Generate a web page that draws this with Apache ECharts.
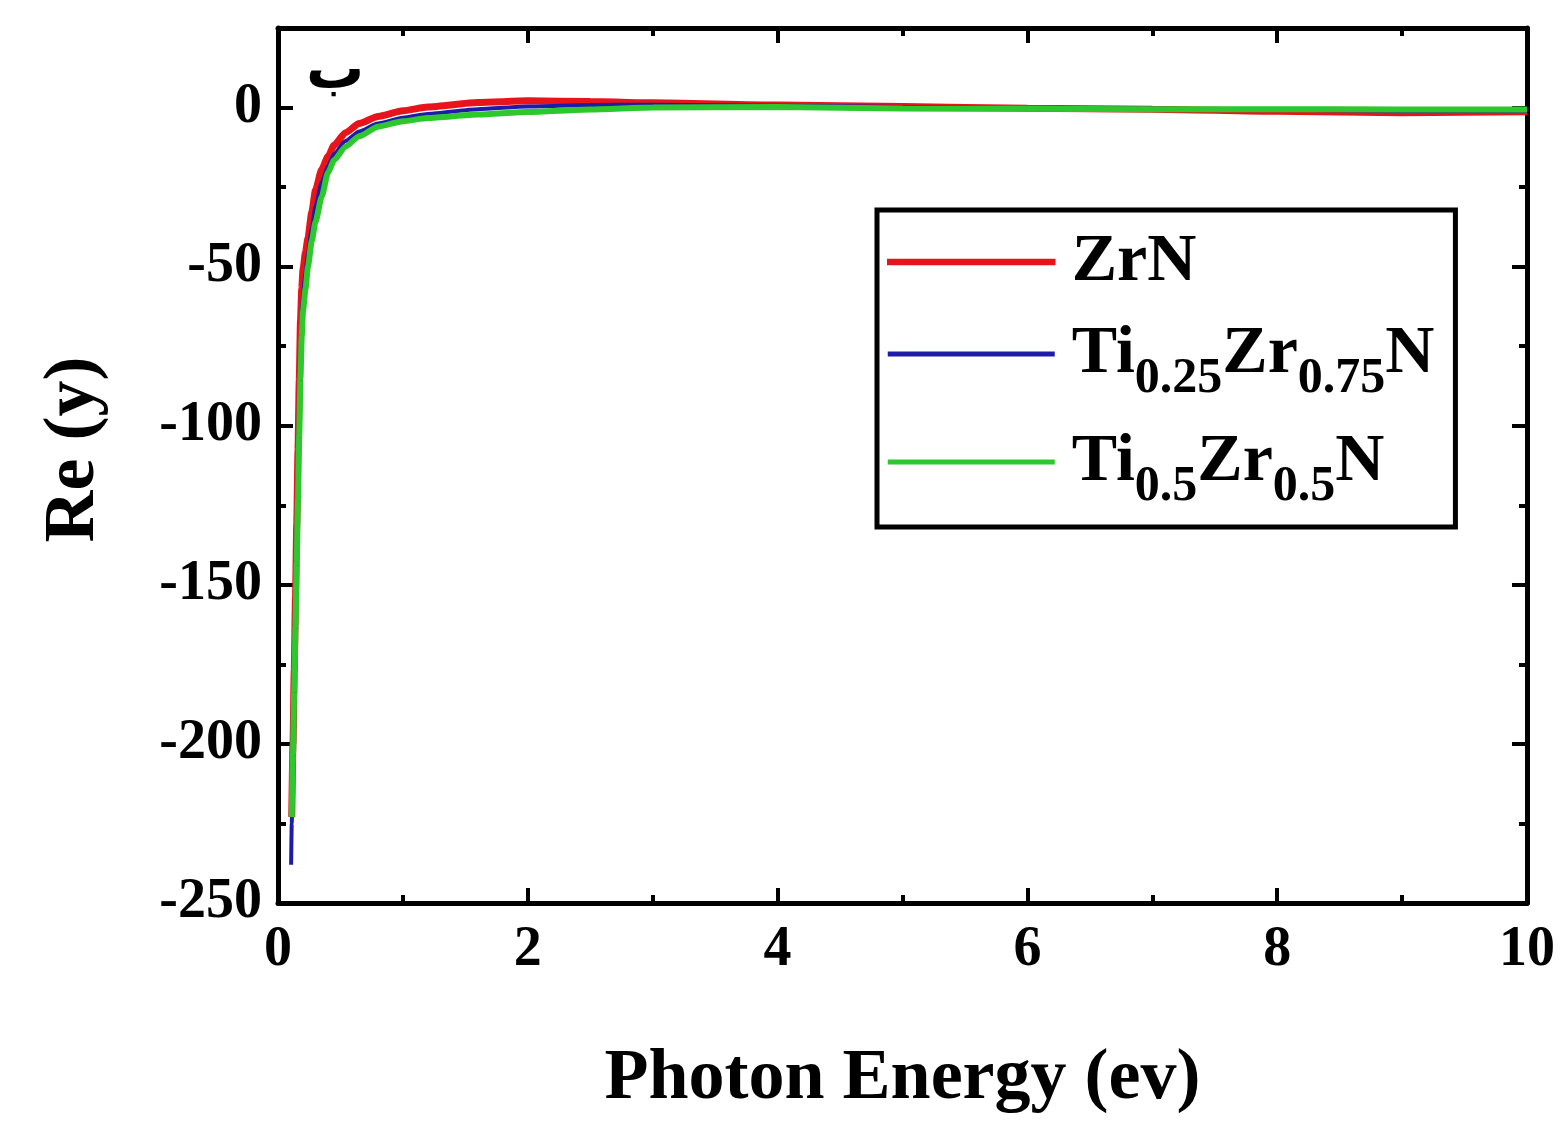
<!DOCTYPE html>
<html>
<head>
<meta charset="utf-8">
<script src="https://cdn.jsdelivr.net/npm/echarts@6/dist/echarts.min.js"></script>
<style>
html,body{margin:0;padding:0;background:#fff;}
#chart{width:1568px;height:1124px;}
</style>
</head>
<body>
<div id="chart"></div>
<script>
// ---- data ----
const energy = [0.105,0.11,0.12,0.13,0.14,0.15,0.16,0.17,0.18,0.19,0.2,0.22,0.24,0.27,0.3,0.35,0.4,0.45,0.54,0.65,0.8,1.0,1.2,1.6,2.0,2.5,3,4,5,6,7,8,9,10];
const zrN = [null,-223,-200,-177,-154,-131,-108,-86,-67,-57,-51,-45.5,-41,-33,-26,-19.5,-15.4,-11.8,-7.9,-5,-2.8,-1,0.2,1.6,2.1,1.9,1.5,0.8,0.3,-0.2,-0.5,-1.2,-1.6,-1.3];
const ti025 = [-238,-225,-204,-183,-162,-141,-120,-99,-80,-67,-59,-52,-46,-38,-31,-23.5,-18.5,-14.5,-10.5,-7.5,-5,-3.2,-2,-0.5,0.3,0.8,0.9,0.6,0.2,-0.2,-0.4,-0.7,-1.0,-1.0];
const ti05 = [null,-223,-203,-183,-163,-143,-123,-103,-85,-72,-64,-57,-50,-42,-36,-28,-20.4,-16.5,-12.3,-9,-6,-4.3,-3.3,-2.2,-1.4,-0.6,0,0.2,-0.3,-0.4,-0.5,-0.5,-0.6,-0.6];
const seriesNames = ['ZrN','Ti0.25Zr0.75N','Ti0.5Zr0.5N'];
const seriesColors = ['#e8141c','#1c1ca8','#2ec82e'];
const legendRich = {
  'ZrN': '{f|ZrN}',
  'Ti0.25Zr0.75N': '{f|Ti}{s|0.25}{m|Zr}{s|0.75}{m|N}',
  'Ti0.5Zr0.5N': '{f|Ti}{s|0.5}{m|Zr}{s|0.5}{m|N}'
};
const xTicks = {min:0, max:10, interval:2};
const yTicks = {min:-250, max:25, interval:50};
const panelLabel = 'ب';

function pairs(ys){ return energy.map((x,i)=>[x, ys[i]]); }

const FONT = '"Liberation Serif", "Times New Roman", serif';
const chart = echarts.init(document.getElementById('chart'), null, {renderer:'canvas'});

const axisCommon = {
  axisLine:{show:true, onZero:false, lineStyle:{color:'#000', width:5}},
  axisTick:{show:true, inside:true, length:15, lineStyle:{color:'#000', width:4}},
  minorTick:{show:true, splitNumber:2, length:8, lineStyle:{color:'#000', width:4}},
  splitLine:{show:false}
};

const legendBorder = [1.5, 0, 0];
const mainStyle = {fontFamily:FONT, fontWeight:'bold', fontSize:68, lineHeight:100, color:'#000', verticalAlign:'middle'};
const option = {
  backgroundColor:'#fff',
  animation:false,
  grid:{left:278, right:41, top:28, bottom:221, containLabel:false},
  xAxis:[
    Object.assign({}, axisCommon, {
      type:'value', position:'bottom', min:xTicks.min, max:xTicks.max, interval:xTicks.interval,
      name:'Photon Energy (ev)', nameLocation:'middle', nameGap:140,
      nameTextStyle:{fontFamily:FONT, fontWeight:'bold', fontSize:72, color:'#000'},
      axisLabel:{show:true, margin:20, fontFamily:FONT, fontWeight:'bold', fontSize:56, color:'#000'}
    }),
    Object.assign({}, axisCommon, {
      type:'value', position:'top', min:xTicks.min, max:xTicks.max, interval:xTicks.interval,
      axisLabel:{show:false}
    })
  ],
  yAxis:[
    Object.assign({}, axisCommon, {
      type:'value', position:'left', min:yTicks.min, max:yTicks.max, interval:yTicks.interval,
      name:'Re (y)', nameLocation:'middle', nameGap:168,
      nameTextStyle:{fontFamily:FONT, fontWeight:'bold', fontSize:72, color:'#000', padding:[0,0,0,32]},
      axisLabel:{show:true, margin:16, showMaxLabel:false, fontFamily:FONT, fontWeight:'bold', fontSize:56, color:'#000'}
    }),
    Object.assign({}, axisCommon, {
      type:'value', position:'right', min:yTicks.min, max:yTicks.max, interval:yTicks.interval,
      axisLabel:{show:false}
    })
  ],
  legend:{
    show:true, orient:'vertical', left:877, top:210,
    data:seriesNames.map((n,i)=>({name:n, icon:'rect',
      itemStyle:{color:seriesColors[i], borderColor:seriesColors[i], borderWidth:legendBorder[i]}})),
    backgroundColor:'#fff', borderColor:'#000', borderWidth:5, borderRadius:0,
    padding:[18,21,15,10], itemGap:24, itemWidth:167, itemHeight:5,
    formatter:function(n){ return legendRich[n]; },
    textStyle:{
      color:'#000', fontFamily:FONT, fontWeight:'bold',
      rich:{
        f:Object.assign({}, mainStyle, {padding:[0,0,0,12]}),
        m:mainStyle,
        s:{fontFamily:FONT, fontWeight:'bold', fontSize:50, lineHeight:52, color:'#000', verticalAlign:'bottom'}
      }
    }
  },
  graphic:[{
    type:'text', left:306, top:44,
    style:{text:panelLabel, font:'bold 58px "DejaVu Sans"', fill:'#000'}
  }],
  series:[
    {name:'ZrN', type:'line', xAxisIndex:0, yAxisIndex:0, data:pairs(zrN), showSymbol:false, symbol:'none',
     smooth:0.2, smoothMonotone:'x',
     lineStyle:{color:seriesColors[0], width:7}, itemStyle:{color:seriesColors[0]}},
    {name:'Ti0.25Zr0.75N', type:'line', xAxisIndex:0, yAxisIndex:0, data:pairs(ti025), showSymbol:false, symbol:'none',
     smooth:0.2, smoothMonotone:'x',
     lineStyle:{color:seriesColors[1], width:4}, itemStyle:{color:seriesColors[1]}},
    {name:'Ti0.5Zr0.5N', type:'line', xAxisIndex:0, yAxisIndex:0, data:pairs(ti05), showSymbol:false, symbol:'none',
     smooth:0.2, smoothMonotone:'x',
     lineStyle:{color:seriesColors[2], width:6}, itemStyle:{color:seriesColors[2]}}
  ]
};
chart.setOption(option);
</script>
</body>
</html>
